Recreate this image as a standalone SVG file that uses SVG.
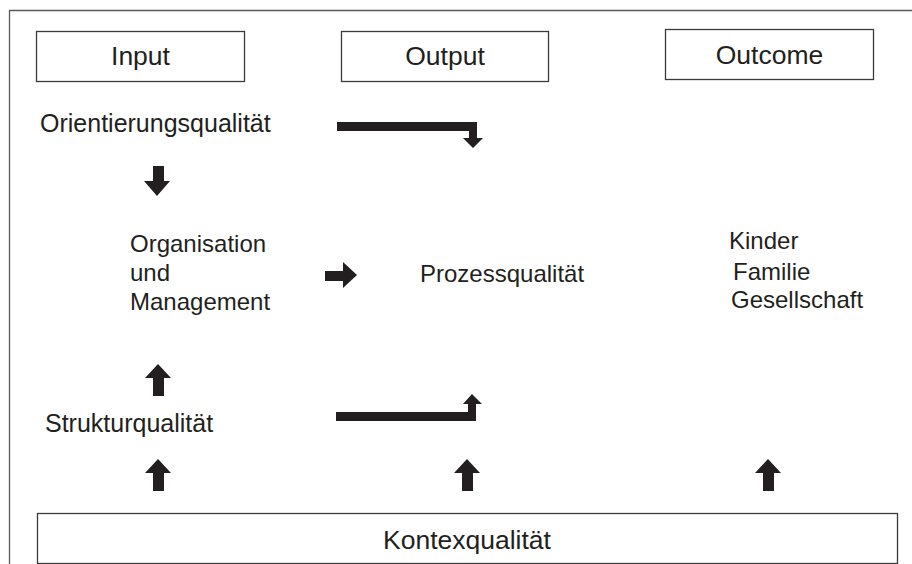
<svg xmlns="http://www.w3.org/2000/svg" width="912" height="564" viewBox="0 0 912 564">
<style>
.box{fill:#fff;stroke:#3a3a3a;stroke-width:1.3}
.frame{fill:none;stroke:#5a5a5a;stroke-width:1.3}
.h{font-family:"Liberation Sans",Arial,sans-serif;font-size:26.5px;fill:#231f20;text-anchor:middle}
.t{font-family:"Liberation Sans",Arial,sans-serif;font-size:24px;fill:#231f20}
.ar{fill:#231f20}
</style>
<rect width="912" height="564" fill="#fff"/>
<path class="frame" d="M9.5,564 V10.5 H912"/>
<g id="input"><rect class="box" x="36.5" y="31.5" width="208" height="50"/><text class="h" x="140.5" y="65">Input</text></g>
<g id="output"><rect class="box" x="341.5" y="31.5" width="207" height="50"/><text class="h" x="445" y="65">Output</text></g>
<g id="outcome"><rect class="box" x="665.5" y="29.5" width="208" height="50"/><text class="h" x="769.5" y="63.5">Outcome</text></g>
<g id="orientierung"><text class="t" x="40" y="132" style="font-size:25px">Orientierungsqualität</text></g>
<g id="organisation"><text class="t" x="130" y="252">Organisation</text><text class="t" x="130" y="281">und</text><text class="t" x="130" y="310">Management</text></g>
<g id="prozess"><text class="t" x="420" y="282">Prozessqualität</text></g>
<g id="wirkung"><text class="t" x="729" y="249">Kinder</text><text class="t" x="733" y="280">Familie</text><text class="t" x="731" y="308">Gesellschaft</text></g>
<g id="struktur"><text class="t" x="45" y="432" style="font-size:25px">Strukturqualität</text></g>
<g id="kontext"><rect class="box" x="37.5" y="513.5" width="860" height="50"/><text class="h" x="467" y="549">Kontexqualität</text></g>
<g id="connectors">
<polygon class="ar" points="337,122 477,122 477,138 483,138 473,148 463,138 469,138 469,131 337,131"/>
<polygon class="ar" points="336,412 468,412 468,404 463,404 472,394 482,404 476,404 476,421 336,421"/>
<polygon class="ar" points="153,166 164,166 164,181 170,181 157,196 144,181 153,181"/>
<polygon class="ar" points="325,271 343,271 343,262 357,275 343,288 343,281 325,281"/>
<polygon class="ar" points="158,364 171,378 164,378 164,396 153,396 153,378 145,378"/>
<polygon class="ar" points="158,459 171,473 164,473 164,491 153,491 153,473 145,473"/>
<polygon class="ar" points="467,459 480,473 473,473 473,491 462,491 462,473 454,473"/>
<polygon class="ar" points="768,459 781,473 774,473 774,491 763,491 763,473 755,473"/>
</g>
</svg>
